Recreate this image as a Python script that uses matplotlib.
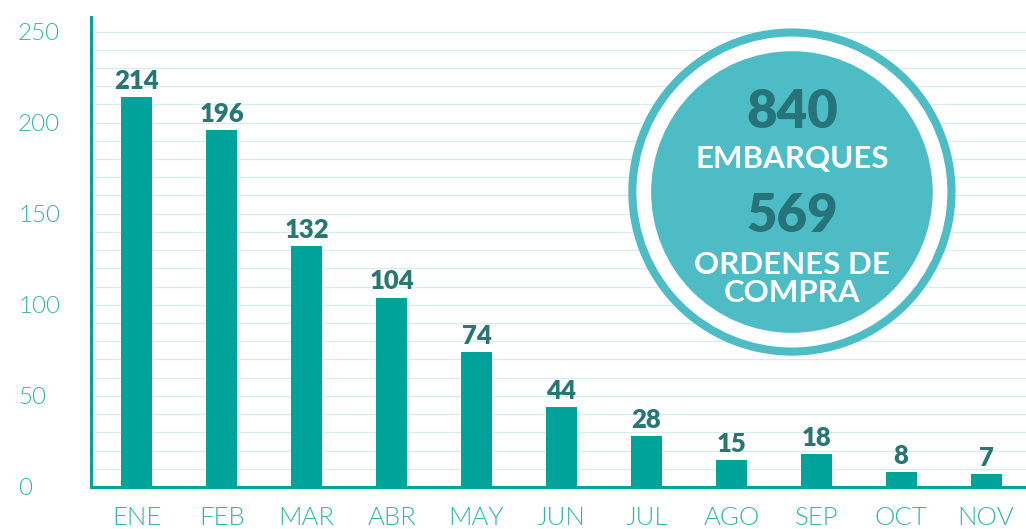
import matplotlib
matplotlib.use('Agg')
import matplotlib.pyplot as plt
from matplotlib.patches import Circle

# Monthly values
months = ['ENE', 'FEB', 'MAR', 'ABR', 'MAY', 'JUN', 'JUL', 'AGO', 'SEP', 'OCT', 'NOV']
values = [214, 196, 132, 104, 74, 44, 28, 15, 18, 8, 7]
y_ticks = [0, 50, 100, 150, 200, 250]

# Circle summary
total_embarques = '840'
total_ordenes = '569'

bar_color = '#00a39a'
label_color = '#2a7673'
tick_color = '#33b2ad'
grid_color = '#d3ecec'
circle_color = '#4dbcc4'

plt.rcParams['font.family'] = ['Lato', 'DejaVu Sans']

fig = plt.figure(figsize=(10.26, 5.29), dpi=100)
fig.patch.set_facecolor('white')
ax = fig.add_axes([0.0887, 0.0794, 0.9113, 0.8886])

x = list(range(len(months)))
bars = ax.bar(x, values, width=0.365, color=bar_color, zorder=3)

for xi, v in zip(x, values):
    ax.annotate(str(v), (xi, v), xytext=(0, 3), textcoords='offset points',
                ha='center', va='bottom', fontsize=18.5, fontweight='heavy',
                color=label_color, zorder=4)

ax.set_xlim(-0.54, 10.47)
ax.set_ylim(0, 258)

# light horizontal rules every 10 units
for g in range(10, 251, 10):
    ax.axhline(g, xmin=0.005, color=grid_color, linewidth=0.9, zorder=1)

ax.set_yticks(y_ticks)
ax.set_xticks(x)
ax.set_xticklabels(months)
ax.tick_params(axis='y', length=0, pad=52.5, labelsize=17.5, labelcolor=tick_color)
ax.tick_params(axis='x', length=0, pad=14, labelsize=18.5, labelcolor=tick_color)
for lbl in ax.get_yticklabels():
    lbl.set_horizontalalignment('left')
    lbl.set_fontweight(300)
for lbl in ax.get_xticklabels():
    lbl.set_fontweight(300)

for side in ['top', 'right']:
    ax.spines[side].set_visible(False)
for side in ['left', 'bottom']:
    ax.spines[side].set_color(bar_color)
    ax.spines[side].set_linewidth(2.2)
    ax.spines[side].set_zorder(5)

# summary badge
cax = fig.add_axes([0.613, 0.329, 0.3177, 0.616])
cax.set_xlim(-1, 1)
cax.set_ylim(-1, 1)
cax.set_aspect('equal')
cax.axis('off')
cax.add_patch(Circle((0, 0), 1.0, color=circle_color, clip_on=False))
cax.add_patch(Circle((0, 0), 0.95, color='white', clip_on=False))
cax.add_patch(Circle((0, 0), 0.86, color=circle_color, clip_on=False))

cax.text(0, 0.49, total_embarques, ha='center', va='center', fontsize=38,
         fontweight='heavy', color='#26737a')
cax.text(0, 0.205, 'EMBARQUES', ha='center', va='center', fontsize=22.5,
         fontweight='bold', color='white')
cax.text(0, -0.15, total_ordenes, ha='center', va='center', fontsize=38,
         fontweight='heavy', color='#26737a')
cax.text(0, -0.45, 'ORDENES DE', ha='center', va='center', fontsize=22.5,
         fontweight='bold', color='white')
cax.text(0, -0.62, 'COMPRA', ha='center', va='center', fontsize=22.5,
         fontweight='bold', color='white')

fig.savefig('out.png', dpi=100, facecolor='white')
